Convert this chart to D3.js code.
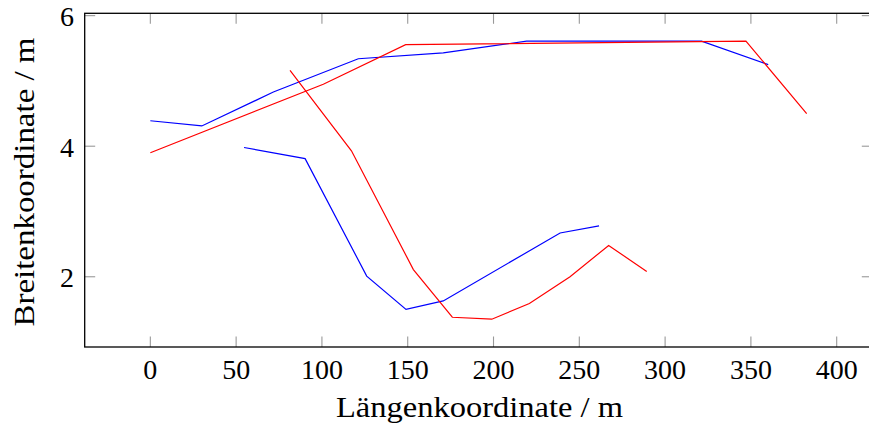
<!DOCTYPE html>
<html><head><meta charset="utf-8">
<script src="https://cdn.jsdelivr.net/npm/d3@7"></script>
<style>body{margin:0;background:#fff}svg{display:block}text{font-family:"Liberation Serif","Times New Roman","DejaVu Serif",serif;fill:#000}</style>
</head><body>
<svg id="chart" width="869" height="428"></svg>
<script>
// Series data (Längenkoordinate x, Breitenkoordinate y)
const blueUpperX = [0, 30, 71.7, 121.2, 170.7, 219.3, 321.2, 360.1];
const blueUpperY = [4.39, 4.31, 4.83, 5.34, 5.43, 5.61, 5.61, 5.25];
const redUpperX  = [0, 100.8, 148.8, 347.1, 382.5];
const redUpperY  = [3.90, 4.95, 5.556, 5.61, 4.50];
const blueLowerX = [54.6, 90.2, 126.1, 149.0, 170.7, 238.8, 261.5];
const blueLowerY = [3.98, 3.81, 2.01, 1.50, 1.63, 2.67, 2.78];
const redLowerX  = [81.4, 117.2, 153.3, 176.0, 199.0, 220.9, 244.6, 267.1, 289.3];
const redLowerY  = [5.16, 3.93, 2.11, 1.38, 1.35, 1.59, 2.00, 2.48, 2.08];
const xTicks = [0, 50, 100, 150, 200, 250, 300, 350, 400];
const yTicks = [2, 4, 6];
const xLabel = "Längenkoordinate / m";
const yLabel = "Breitenkoordinate / m";

const series = [
  {x: blueUpperX, y: blueUpperY, color: "#0000ff"},
  {x: redUpperX,  y: redUpperY,  color: "#ff0000"},
  {x: blueLowerX, y: blueLowerY, color: "#0000ff"},
  {x: redLowerX,  y: redLowerY,  color: "#ff0000"}
];

const allX = series.flatMap(s => s.x), allY = series.flatMap(s => s.y);
const [x0, x1] = d3.extent(allX), [y0, y1] = d3.extent(allY);
const ex = 0.1 * (x1 - x0), ey = 0.1 * (y1 - y0);

const L = 84.7, R = 872.3, T = 13.3, B = 347;
const x = d3.scaleLinear().domain([x0 - ex, x1 + ex]).range([L, R]);
const y = d3.scaleLinear().domain([y0 - ey, y1 + ey]).range([B, T]);

const svg = d3.select("#chart");
const tickLen = 10.5, tickColor = "#999";
const FONT = "'Liberation Serif', 'Times New Roman', 'DejaVu Serif', serif";

// ticks on all sides
const gT = svg.append("g");
xTicks.forEach(t => {
  gT.append("line").attr("x1", x(t)).attr("x2", x(t)).attr("y1", B).attr("y2", B - tickLen);
  gT.append("line").attr("x1", x(t)).attr("x2", x(t)).attr("y1", T).attr("y2", T + tickLen);
});
yTicks.forEach(t => {
  gT.append("line").attr("x1", L).attr("x2", L + tickLen).attr("y1", y(t)).attr("y2", y(t));
  gT.append("line").attr("x1", R).attr("x2", R - tickLen).attr("y1", y(t)).attr("y2", y(t));
});
gT.selectAll("line").attr("stroke", tickColor).attr("stroke-width", 1.1);

// data lines
svg.append("clipPath").attr("id", "clip").append("rect")
  .attr("x", L).attr("y", T).attr("width", R - L).attr("height", B - T);
const line = d3.line().x(d => x(d[0])).y(d => y(d[1]));
series.forEach(s => {
  svg.append("path").datum(d3.zip(s.x, s.y))
    .attr("d", line).attr("fill", "none")
    .attr("stroke", s.color).attr("stroke-width", 1.2)
    .attr("clip-path", "url(#clip)");
});

// frame
svg.append("rect").attr("x", L).attr("y", T).attr("width", R - L).attr("height", B - T)
  .attr("fill", "none").attr("stroke", "#000").attr("stroke-width", 1.3);

// tick labels
svg.append("g").selectAll("text").data(xTicks).join("text")
  .attr("font-family", FONT)
  .attr("x", d => x(d)).attr("y", 378.5).attr("text-anchor", "middle")
  .attr("font-size", 28).text(d => d);
svg.append("g").selectAll("text").data(yTicks).join("text")
  .attr("font-family", FONT)
  .attr("x", 74).attr("y", d => y(d) + 10.5).attr("text-anchor", "end")
  .attr("font-size", 28).text(d => d);

// axis labels
svg.append("text").attr("font-family", FONT).attr("x", 479.5).attr("y", 417).attr("text-anchor", "middle")
  .attr("font-size", 29).attr("textLength", 287).attr("lengthAdjust", "spacingAndGlyphs").text(xLabel);
svg.append("text").attr("font-family", FONT).attr("transform", "translate(33.5,182) rotate(-90)")
  .attr("text-anchor", "middle").attr("font-size", 29)
  .attr("textLength", 289).attr("lengthAdjust", "spacingAndGlyphs").text(yLabel);
</script>
</body></html>
